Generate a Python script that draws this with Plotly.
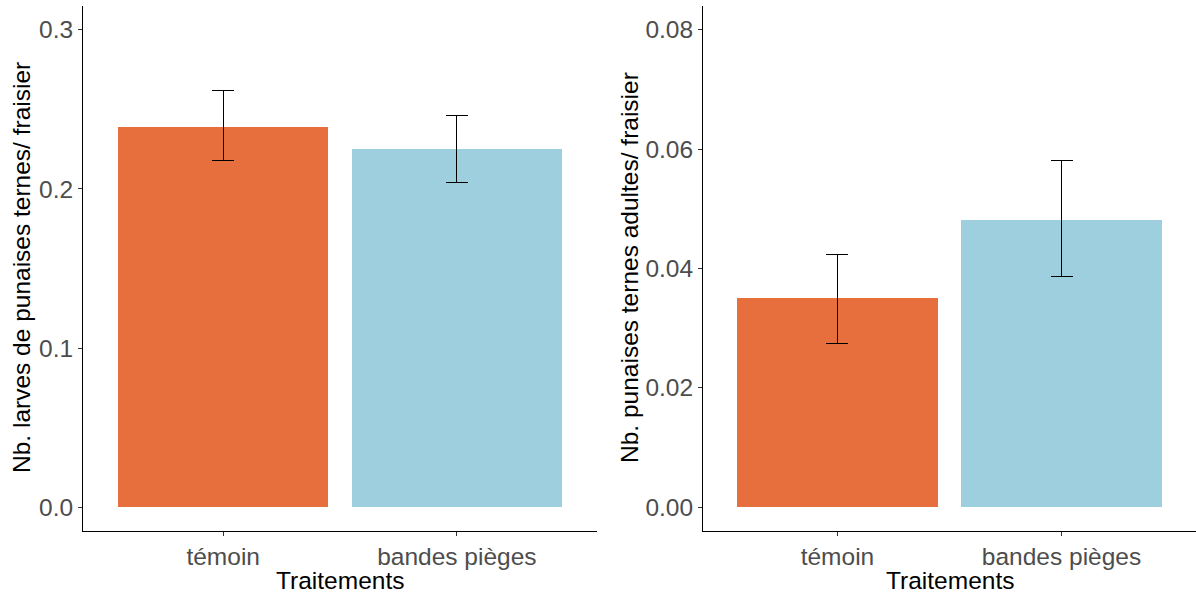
import plotly.graph_objects as go

categories = ["témoin", "bandes pièges"]
colors = ["#E76F3D", "#9ECFDF"]

larves_mean = [0.239, 0.225]
larves_err_up = [0.0227, 0.021]
larves_err_down = [0.0212, 0.021]

adultes_mean = [0.0350, 0.0482]
adultes_err_up = [0.0074, 0.0099]
adultes_err_down = [0.0075, 0.0096]

W, H = 1196, 594
FONT = "Liberation Sans, Arial, sans-serif"
FS = 24.5

fig = go.Figure()

fig.add_trace(go.Bar(
    x=categories, y=larves_mean, width=0.9, marker=dict(color=colors, line=dict(width=0)),
    error_y=dict(type="data", array=larves_err_up, arrayminus=larves_err_down,
                 color="black", thickness=1.1, width=11),
    xaxis="x", yaxis="y", showlegend=False))
fig.add_trace(go.Bar(
    x=categories, y=adultes_mean, width=0.9, marker=dict(color=colors, line=dict(width=0)),
    error_y=dict(type="data", array=adultes_err_up, arrayminus=adultes_err_down,
                 color="black", thickness=1.1, width=11),
    xaxis="x2", yaxis="y2", showlegend=False))

ydom = [1 - 531 / H, 1 - 6 / H]
common_x = dict(type="category", range=[-0.6, 1.6], showline=True, linecolor="black", linewidth=1,
                ticks="outside", ticklen=4, tickcolor="#333333", showgrid=False, zeroline=False,
                tickfont=dict(family=FONT, size=FS, color="#4D4D4D"), fixedrange=True)
common_y = dict(showline=True, linecolor="black", linewidth=1, ticks="outside", ticklen=4,
                tickcolor="#333333", showgrid=False, zeroline=False,
                tickfont=dict(family=FONT, size=FS, color="#4D4D4D"), domain=ydom)

fig.update_layout(
    width=W, height=H, margin=dict(l=0, r=0, t=0, b=0),
    paper_bgcolor="white", plot_bgcolor="white",
    xaxis=dict(domain=[83 / W, 597 / W], anchor="y", **common_x),
    yaxis=dict(range=[-0.015, 0.315], tickvals=[0, 0.1, 0.2, 0.3],
               ticktext=["0.0", "0.1", "0.2", "0.3"], anchor="x", **common_y),
    xaxis2=dict(domain=[703 / W, 1.0], anchor="y2", **common_x),
    yaxis2=dict(range=[-0.004, 0.084], tickvals=[0, 0.02, 0.04, 0.06, 0.08],
                ticktext=["0.00", "0.02", "0.04", "0.06", "0.08"], anchor="x2", **common_y),
    bargap=0,
)

title_font = dict(family=FONT, size=FS, color="black")
annots = [
    dict(text="Traitements", x=(83 + 597) / 2 / W, y=1 - 580 / H),
    dict(text="Traitements", x=(703 + 1196) / 2 / W, y=1 - 580 / H),
    dict(text="Nb. larves de punaises ternes/ fraisier", x=22 / W, y=1 - 268 / H, textangle=-90),
    dict(text="Nb. punaises ternes adultes/ fraisier", x=630 / W, y=1 - 268 / H, textangle=-90),
]
for a in annots:
    fig.add_annotation(xref="paper", yref="paper", showarrow=False, font=title_font,
                       xanchor="center", yanchor="middle", **a)

fig.write_html("out.html")
